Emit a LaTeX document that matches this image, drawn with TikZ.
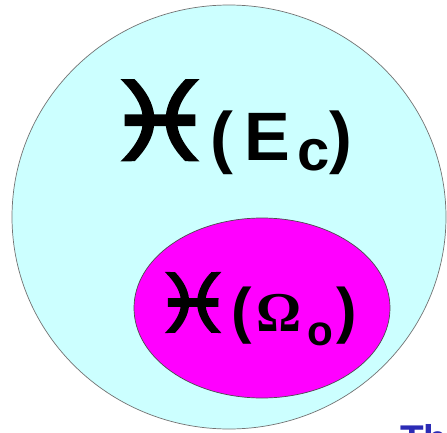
\documentclass[tikz,border=0pt]{standalone}
\usepackage{fontspec}
\setmainfont{Liberation Sans}
\newfontfamily\zodiacfont[FakeBold=2.5]{DejaVu Sans}
\newfontfamily\greekfont{Liberation Serif}
\usetikzlibrary{positioning}
\definecolor{setcyan}{HTML}{CCFFFF}
\definecolor{setmagenta}{HTML}{FF00FF}
\definecolor{slideblue}{HTML}{2B2BB5}

\begin{document}
\begin{tikzpicture}[
    x=0.02cm, y=-0.02cm,
    setlabel/.style={inner sep=0pt, anchor=base west, font=\bfseries}
]
% page: 447 x 433 px, 1px = 0.02cm, y grows downwards
\clip (0,0) rectangle (447,433);
\fill[white] (0,0) rectangle (447,433);

% outer set E_c
\draw[black!55, fill=setcyan] (229,217) ellipse [x radius=217, y radius=212];
% inner set Omega_o
\draw[black!70, fill=setmagenta] (262,308) ellipse [x radius=128, y radius=90];

% labels (glyph and argument placed separately)
\node[setlabel] (hEc) at (104,160)
  {\fontsize{62}{66}\selectfont\zodiacfont\scalebox{1.14}[1]{♓}};
\node[setlabel] (argEc) at (210,160)
  {\fontsize{39}{44}\selectfont (\kern6.5pt E\kern4pt\raisebox{-5.7pt}{\fontsize{33}{36}\selectfont c})};

\node[setlabel] (hOm) at (153,332)
  {\fontsize{46}{50}\selectfont\zodiacfont\scalebox{1.1}[1]{♓}};
\node[setlabel] (argOm) at (231,331)
  {\fontsize{35}{38}\selectfont (\kern2.5pt{\greekfont\fontsize{32}{34}\selectfont Ω}\kern3.5pt\raisebox{-8.5pt}{\fontsize{24}{26}\selectfont o}\kern2pt)};

% cut-off slide text
\node[setlabel, text=slideblue, font=\bfseries\fontsize{22}{24}\selectfont] (slideTxt) at (400,452) {Th};
\end{tikzpicture}
\end{document}
